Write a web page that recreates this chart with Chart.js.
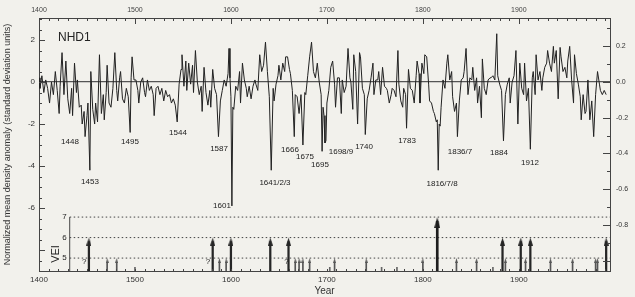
<!DOCTYPE html>
<html><head><meta charset="utf-8">
<script src="https://cdn.jsdelivr.net/npm/chart.js@4/dist/chart.umd.min.js"></script>
<style>html,body{margin:0;padding:0;background:#f2f1ec;}canvas{display:block;}</style>
</head><body>
<canvas id="c" width="635" height="297"></canvas>
<script>
const FONT = "'Liberation Sans', Arial, Helvetica, sans-serif";

// NHD1 normalized density anomaly, [year, value]
const density1400s = [[1400,0.2],[1401,-0.3],[1403,0.3],[1405,-0.5],[1407,0.1],[1409,-0.3],[1411,-1.0],[1413,0.0],[1415,-0.6],[1417,0.5],[1419,-0.4],[1421,-1.5],[1422,-0.2],[1424,1.4],[1426,-0.6],[1428,1.0],[1430,-0.8],[1432,-1.5],[1434,-0.3],[1435,-1.6],[1437,0.9],[1439,-0.5],[1440,0.1],[1442,-1.2],[1444,-1.1],[1445,-2.0],[1447,-1.4],[1448,-2.6],[1450,-1.6],[1451,-1.0],[1453,-4.2],[1454,0.5],[1456,-1.3],[1458,-2.0],[1459,-1.0],[1461,-1.9],[1463,1.3],[1465,-1.5],[1467,-0.6],[1468,-1.8],[1470,-0.5],[1471,0.8],[1473,-1.0],[1475,-1.2],[1477,-0.3],[1479,1.4],[1481,-0.4],[1482,-0.9],[1484,0.2],[1485,0.5],[1487,-0.8],[1489,-1.0],[1491,-0.3],[1493,-0.7],[1495,-2.4],[1496,0.2],[1497,1.2],[1499,0.1]];
const density1500s = [[1501,0.1],[1503,-0.4],[1504,-1.0],[1506,0.0],[1508,0.2],[1510,-0.5],[1511,-0.7],[1513,0.1],[1515,-0.4],[1517,-0.2],[1519,-0.6],[1520,-1.6],[1522,-0.3],[1524,-0.2],[1526,-0.6],[1528,-0.3],[1530,-0.9],[1532,-0.4],[1534,-0.7],[1536,-0.6],[1538,-1.0],[1540,-0.8],[1542,-1.1],[1544,-1.9],[1546,-0.1],[1548,0.6],[1549,1.3],[1551,-0.2],[1553,1.0],[1554,-0.4],[1556,0.9],[1558,-0.1],[1560,0.8],[1561,-0.5],[1563,1.5],[1565,0.0],[1567,-0.6],[1569,-0.2],[1570,-1.4],[1572,0.7],[1574,-0.5],[1576,-1.1],[1578,-0.4],[1579,-1.2],[1581,0.6],[1583,-0.3],[1585,-0.6],[1587,-2.6],[1589,-0.9],[1591,-0.4],[1593,0.1],[1595,-0.2],[1597,0.4],[1598,1.6],[1599,0.2]];
const density1600s = [[1600,-0.7],[1601,-5.9],[1602,-1.2],[1603,-1.3],[1605,-0.2],[1607,-0.4],[1609,0.5],[1610,-1.0],[1612,0.9],[1614,0.1],[1616,-0.3],[1617,-0.7],[1619,-0.2],[1621,-0.8],[1623,-0.2],[1625,0.1],[1626,-0.1],[1628,-0.4],[1630,1.3],[1632,0.5],[1634,0.8],[1636,1.9],[1638,0.5],[1640,-0.7],[1642,-4.2],[1644,-0.3],[1645,-0.9],[1647,-0.1],[1649,0.3],[1650,0.8],[1652,0.1],[1654,0.9],[1656,0.5],[1657,1.2],[1659,1.2],[1661,0.6],[1662,0.4],[1664,-0.4],[1666,-2.6],[1667,-0.6],[1669,-0.7],[1671,-1.5],[1673,-0.6],[1675,-3.0],[1677,-0.5],[1678,-0.6],[1680,0.3],[1682,1.2],[1684,1.9],[1686,0.5],[1688,0.2],[1690,0.9],[1692,0.0],[1694,-0.6],[1695,-3.3],[1696,-1.2],[1697,-1.6],[1698,-2.9],[1699,-2.8]];
const density1700s = [[1700,-1.0],[1702,-0.4],[1704,0.7],[1706,1.0],[1708,-0.1],[1709,-1.2],[1711,0.2],[1713,0.2],[1715,-1.5],[1716,0.1],[1718,-0.5],[1720,-0.2],[1722,1.6],[1724,0.2],[1725,0.0],[1727,-1.3],[1728,1.3],[1730,0.5],[1732,-2.0],[1734,1.4],[1735,1.2],[1737,-0.3],[1739,-0.6],[1740,-2.5],[1742,-0.8],[1744,-0.4],[1746,0.2],[1748,0.9],[1749,-0.6],[1751,0.1],[1753,0.1],[1754,0.5],[1756,-0.6],[1758,0.7],[1760,-0.2],[1762,-0.3],[1763,-0.4],[1765,-1.0],[1767,-0.6],[1768,-0.3],[1770,-0.4],[1772,-0.7],[1774,1.5],[1775,-0.1],[1777,-0.9],[1779,-1.2],[1780,-0.3],[1782,-0.6],[1783,-2.2],[1785,0.6],[1787,-0.3],[1789,-0.4],[1791,-1.0],[1793,0.3],[1794,1.0],[1796,0.4],[1797,-1.0],[1799,0.9]];
const density1800s = [[1801,0.4],[1802,1.3],[1804,1.2],[1806,-0.1],[1807,-0.9],[1809,-1.0],[1811,-1.4],[1812,-1.5],[1814,-1.9],[1815,-1.8],[1816,-4.2],[1817,-2.0],[1818,-2.1],[1819,-1.2],[1821,0.1],[1823,-0.3],[1825,0.9],[1826,1.3],[1828,0.1],[1830,0.5],[1831,-0.7],[1833,-1.4],[1835,-1.0],[1836,-2.6],[1838,-0.9],[1840,0.1],[1842,0.2],[1843,0.5],[1845,1.6],[1847,-0.6],[1849,0.2],[1851,0.1],[1852,0.7],[1854,-0.4],[1856,0.2],[1857,-1.0],[1859,-0.2],[1861,-1.7],[1862,1.1],[1864,-0.3],[1866,-0.6],[1868,0.1],[1870,0.2],[1871,0.2],[1873,0.3],[1875,0.1],[1877,2.3],[1878,0.3],[1880,-0.1],[1882,-0.4],[1884,-2.8],[1886,-0.6],[1888,-0.1],[1890,0.2],[1891,-1.0],[1893,0.0],[1895,0.3],[1897,1.5],[1899,-2.0]];
const density1900s = [[1901,0.9],[1903,-0.3],[1905,-0.6],[1906,0.9],[1908,-0.9],[1910,-0.3],[1912,-3.2],[1914,0.2],[1915,0.5],[1917,-0.6],[1918,1.3],[1920,0.1],[1922,0.5],[1924,-0.4],[1925,0.2],[1927,0.7],[1929,0.9],[1930,1.5],[1932,0.9],[1934,0.5],[1936,1.7],[1937,0.9],[1939,1.5],[1941,-0.8],[1943,1.65],[1944,1.2],[1946,0.5],[1948,0.7],[1950,0.2],[1951,1.0],[1953,1.7],[1955,0.1],[1957,-1.0],[1958,1.3],[1960,0.4],[1962,-0.1],[1964,-0.7],[1965,-1.8],[1967,-0.6],[1969,-1.5],[1970,-1.4],[1972,0.1],[1974,-1.8],[1976,-0.9],[1978,-2.6],[1980,-0.6],[1982,0.5],[1984,-0.1],[1985,-0.4],[1987,-0.6],[1989,-0.4],[1991,-0.6]];

// Axis ranges / ticks
const yearMin = 1400, yearMax = 1995;
const yearTicks = [1400, 1500, 1600, 1700, 1800, 1900];
const leftMin = -9, leftMax = 3.05;
const leftTicks = [2, 0, -2, -4, -6];
const rightRatio = 8.5;
const rightTicks = [0.2, 0.0, -0.2, -0.4, -0.6, -0.8];

// Volcanic explosivity index events
const veiYears  = [1452,1471,1481,1500,1581,1588,1595,1600,1641,1660,1667,1671,1675,1682,1703,1708,1741,1757,1773,1800,1815,1835,1856,1873,1883,1886,1902,1907,1912,1933,1956,1980,1982,1991];
const veiValues = [6,5,5,4,6,5,5,6,6,6,5,5,5,5,4,5,5,4,4,5,7,5,5,4,6,5,6,5,6,5,5,5,5,6];
const veiLevels = [5, 6, 7];
const veiMin = 4.37, veiMax = 16.71, veiAxisYear = 1432, veiStubTop = 4.55;
const veiQuestionYears = [1447, 1576, 1658];
const veiQuestionLevel = 4.8;

// Year annotations: text, year position, value position
const annTexts  = ['1448','1453','1495','1544','1587','1601','1641/2/3','1666','1675','1695','1698/9','1740','1783','1816/7/8','1836/7','1884','1912'];
const annYears  = [1432.3,1453.1,1494.8,1544.8,1587.6,1590.7,1645.9,1661.5,1677.2,1692.8,1714.7,1738.7,1783.5,1820.0,1838.7,1879.3,1911.6];
const annValues = [-2.86,-4.76,-2.86,-2.43,-3.19,-5.90,-4.81,-3.24,-3.57,-3.95,-3.33,-3.09,-2.81,-4.86,-3.33,-3.38,-3.86];
const seriesName = 'NHD1', seriesNameYear = 1419.8, seriesNameValue = 2.1;

const density = [].concat(density1400s, density1500s, density1600s, density1700s, density1800s, density1900s)
  .map(p => ({x: p[0], y: p[1]}));

function makeHead(w, h, color) {
  const c = document.createElement('canvas');
  c.width = w; c.height = 2 * h;
  const g = c.getContext('2d');
  g.fillStyle = color;
  g.beginPath(); g.moveTo(w / 2, h); g.lineTo(w, 2 * h); g.lineTo(0, 2 * h); g.closePath(); g.fill();
  return c;
}
const veiStyle = {
  7: {thick: 2, head: makeHead(6, 11, '#1e1e1e'), color: '#1e1e1e'},
  6: {thick: 1.6, head: makeHead(5, 8, '#262626'), color: '#262626'},
  5: {thick: 1, head: makeHead(3, 5, '#555'), color: '#555'}
};

const veiDatasets = [];
[7, 6, 5].forEach(level => {
  const pts = veiYears.map((yr, i) => ({yr, v: veiValues[i]})).filter(d => d.v === level);
  veiDatasets.push({
    type: 'bar', xAxisID: 'x', yAxisID: 'vei', grouped: false,
    barThickness: veiStyle[level].thick, backgroundColor: veiStyle[level].color, borderWidth: 0,
    data: pts.map(d => ({x: d.yr, y: [veiMin, d.v - 0.2]}))
  });
  veiDatasets.push({
    type: 'scatter', xAxisID: 'x', yAxisID: 'vei', showLine: false,
    pointStyle: veiStyle[level].head, pointRadius: 3,
    data: pts.map(d => ({x: d.yr, y: d.v}))
  });
});
veiDatasets.push({
  type: 'bar', xAxisID: 'x', yAxisID: 'vei', grouped: false,
  barThickness: 1, backgroundColor: '#666', borderWidth: 0,
  data: veiYears.map((yr, i) => ({yr, v: veiValues[i]})).filter(d => d.v === 4).map(d => ({x: d.yr, y: [veiMin, veiStubTop]}))
});
veiLevels.forEach(level => {
  veiDatasets.push({
    type: 'line', xAxisID: 'x', yAxisID: 'vei', borderColor: '#444', borderWidth: 1,
    borderDash: [1.5, 2.5], pointRadius: 0,
    data: [{x: veiAxisYear, y: level}, {x: yearMax, y: level}]
  });
});
veiDatasets.push({
  type: 'line', xAxisID: 'x', yAxisID: 'vei', borderColor: '#444', borderWidth: 1, pointRadius: 0,
  data: [{x: veiAxisYear, y: veiMin}, {x: veiAxisYear, y: 7}]
});

const bgPlugin = {
  id: 'bg',
  beforeDraw(chart) {
    const ctx = chart.ctx; ctx.save(); ctx.fillStyle = '#f2f1ec';
    ctx.fillRect(0, 0, chart.width, chart.height); ctx.restore();
  }
};

const insideTicks = {
  id: 'insideTicks',
  afterDraw(chart) {
    const {ctx, chartArea: a, scales: s} = chart;
    ctx.save(); ctx.strokeStyle = '#444'; ctx.lineWidth = 1; ctx.beginPath();
    for (let k = -17; k <= 6; k++) {
      const v = k / 2; const y = Math.round(s.y.getPixelForValue(v)) + 0.5;
      const L = (k % 4 === 0) ? 6 : 3;
      ctx.moveTo(a.left, y); ctx.lineTo(a.left + L, y);
    }
    for (let yr = 1410; yr <= 1990; yr += 10) {
      const x = Math.round(s.x2.getPixelForValue(yr)) + 0.5;
      const L = yr % 100 === 0 ? 6 : 3;
      ctx.moveTo(x, a.top); ctx.lineTo(x, a.top + L);
      ctx.moveTo(x, a.bottom); ctx.lineTo(x, a.bottom - 2);
    }
    for (let k = -10; k <= 3; k++) {
      const y = Math.round(s.yR.getPixelForValue(k / 10)) + 0.5;
      const L = (k % 2 === 0) ? 7 : 3;
      ctx.moveTo(a.right, y); ctx.lineTo(a.right - L, y);
    }
    ctx.stroke(); ctx.restore();
  }
};

const textPlugin = {
  id: 'texts',
  afterDatasetsDraw(chart) {
    const {ctx, scales: s} = chart;
    ctx.save(); ctx.fillStyle = '#222';
    ctx.font = '8px ' + FONT; ctx.textAlign = 'center'; ctx.textBaseline = 'middle';
    annTexts.forEach((t, i) => ctx.fillText(t, s.x.getPixelForValue(annYears[i]), s.y.getPixelForValue(annValues[i])));
    ctx.font = '12px ' + FONT; ctx.textAlign = 'left';
    ctx.fillText(seriesName, s.x.getPixelForValue(seriesNameYear), s.y.getPixelForValue(seriesNameValue));
    const ax = s.x.getPixelForValue(veiAxisYear);
    ctx.font = '8px ' + FONT; ctx.textAlign = 'right';
    veiLevels.forEach(l => ctx.fillText(String(l), ax - 3, s.vei.getPixelForValue(l)));
    ctx.textAlign = 'center';
    veiQuestionYears.forEach(yr => ctx.fillText('?', s.x.getPixelForValue(yr), s.vei.getPixelForValue(veiQuestionLevel)));
    ctx.save();
    ctx.translate(ax - 14, s.vei.getPixelForValue(5.2)); ctx.rotate(-Math.PI / 2);
    ctx.font = '11px ' + FONT; ctx.fillText('VEI', 0, 0);
    ctx.restore();
    ctx.restore();
  }
};

const setYearTicks = sc => { sc.ticks = yearTicks.map(v => ({value: v})); };

new Chart(document.getElementById('c'), {
  type: 'line',
  data: {
    datasets: [
      {type: 'line', xAxisID: 'x', yAxisID: 'y', data: density, borderColor: '#222', borderWidth: 1,
       pointRadius: 0, tension: 0, order: 0},
      ...veiDatasets.map(d => Object.assign(d, {order: 1}))
    ]
  },
  options: {
    responsive: false, animation: false, devicePixelRatio: 1,
    layout: {padding: 0},
    plugins: {legend: {display: false}, tooltip: {enabled: false}},
    scales: {
      x: {
        type: 'linear', position: 'bottom', min: yearMin, max: yearMax, offset: false,
        afterBuildTicks: setYearTicks,
        ticks: {autoSkip: false, maxRotation: 0, font: {size: 8, family: FONT}, color: '#333', padding: 4,
                callback: v => String(v)},
        grid: {display: false, drawTicks: false}, border: {display: true, color: '#444', width: 1},
        title: {display: true, text: 'Year', font: {size: 10, family: FONT}, color: '#333', padding: 0},
        afterFit: sc => { sc.height = 26; }
      },
      x2: {
        type: 'linear', position: 'top', min: yearMin, max: yearMax, offset: false,
        afterBuildTicks: setYearTicks,
        ticks: {autoSkip: false, maxRotation: 0, font: {size: 7, family: FONT}, color: '#444', padding: 4,
                callback: v => String(v)},
        grid: {display: false, drawTicks: false}, border: {display: true, color: '#444', width: 1},
        afterFit: sc => { sc.height = 18; }
      },
      y: {
        type: 'linear', position: 'left', min: leftMin, max: leftMax,
        afterBuildTicks: sc => { sc.ticks = leftTicks.map(v => ({value: v})); },
        ticks: {font: {size: 8, family: FONT}, color: '#333', padding: 4, callback: v => String(v)},
        grid: {drawTicks: false, lineWidth: 1.3, color: c => (c.tick && c.tick.value === 0) ? '#555' : 'rgba(0,0,0,0)'},
        border: {display: true, color: '#444', width: 1},
        title: {display: true, text: 'Normalized mean density anomaly (standard deviation units)',
                font: {size: 9, family: FONT}, color: '#333', padding: {top: 2, bottom: 0}},
        afterFit: sc => { sc.width = 39; }
      },
      yR: {
        type: 'linear', position: 'right', min: leftMin / rightRatio, max: leftMax / rightRatio,
        afterBuildTicks: sc => { sc.ticks = rightTicks.map(v => ({value: v})); },
        ticks: {font: {size: 7, family: FONT}, color: '#333', padding: 6, callback: v => v.toFixed(1)},
        grid: {display: false, drawTicks: false}, border: {display: true, color: '#444', width: 1},
        afterFit: sc => { sc.width = 25; }
      },
      vei: {type: 'linear', display: false, min: veiMin, max: veiMax}
    }
  },
  plugins: [bgPlugin, insideTicks, textPlugin]
});
</script>
</body></html>
